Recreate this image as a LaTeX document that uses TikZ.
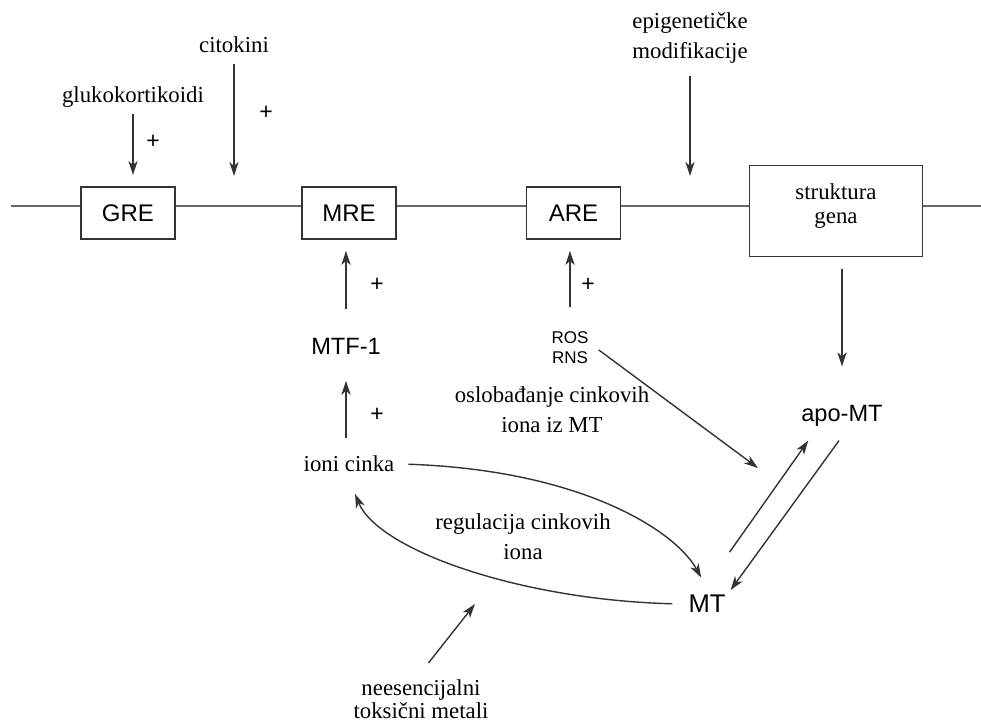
\documentclass[tikz,border=0pt]{standalone}
\usepackage{fontspec}
\setmainfont{Liberation Serif}
\setsansfont{Liberation Sans}
\usetikzlibrary{arrows.meta, calc, positioning}
\definecolor{linegray}{rgb}{0.2, 0.2, 0.2}
\definecolor{dnagray}{rgb}{0.4, 0.4, 0.4}

\begin{document}
\begin{tikzpicture}[x=0.5pt, y=-0.5pt, >={Stealth[length=7pt, width=4.6pt, inset=2pt]}]
        \tikzstyle{element}=[draw=linegray, line width=0.9pt, fill=white, minimum width=47pt, minimum height=26pt, inner sep=0pt, font=\sffamily\fontsize{12}{14}\selectfont]
        \tikzstyle{factor}=[align=center, font=\fontsize{11.4}{15}\selectfont]
        \tikzstyle{protein}=[font=\sffamily\fontsize{11.8}{14}\selectfont]
        \tikzstyle{plus}=[font=\sffamily\fontsize{11.5}{13}\selectfont]
        \tikzstyle{act}=[->, draw=linegray, line width=0.7pt]
        \useasboundingbox (0,0) rectangle (981,722);

        % DNA strand
        \coordinate (lineL) at (11,206);
        \coordinate (lineR) at (981,206);
        \draw[dnagray, line width=0.7pt] (lineL) -- (lineR);

        % Response elements and gene
        \node (gre)[element] at (128,213) {GRE};
        \node (mre)[element] at (349,213) {MRE};
        \node (are)[element] at (573.5,213) {ARE};
        \node (gena)[element, align=center, minimum width=86.5pt, minimum height=45.5pt, font=\fontsize{11.4}{12}\selectfont] at (836,211) {struktura\\gena\\[-5pt]};

        % Inducers from above
        \node (gluko)[factor] at (133,97) {glukokortikoidi};
        \coordinate (glukoEnd) at (133,175);
        \draw[act] (gluko) -- (glukoEnd);
        \node (plusGluko)[plus] at (153,142) {+};

        \node (cito)[factor] at (234,45) {citokini};
        \coordinate (citoEnd) at (234,176);
        \draw[act, shorten <=2pt] (cito) -- (citoEnd);
        \node (plusCito)[plus] at (266,113) {+};

        \node (epi)[factor] at (690,38) {epigenetičke\\modifikacije};
        \coordinate (epiEnd) at (690,176);
        \draw[act, shorten <=3pt] (epi) -- (epiEnd);

        % Zinc branch
        \node (mtf)[protein] at (346,346.5) {MTF-1};
        \draw[act, shorten <=11pt, shorten >=5.5pt] (mtf) -- (mtf |- mre.south);
        \node (plusMre)[plus] at (377,285) {+};

        \node (ioni)[factor] at (349,464) {ioni cinka};
        \draw[act, shorten <=5.4pt, shorten >=9.6pt] (ioni.north -| mtf) -- (mtf);
        \node (plusMtf)[plus] at (377,415) {+};

        % Oxidative branch
        \node (ros)[protein, align=center, font=\sffamily\fontsize{8.5}{10}\selectfont] at (570,347.5) {ROS\\RNS};
        \draw[act, shorten <=8.8pt, shorten >=5.5pt] (ros.north -| ros) -- (ros |- are.south);
        \node (plusAre)[plus] at (588,285) {+};
        \node (oslob)[factor] at (552,410) {oslobađanje cinkovih\\iona iz MT};
        \coordinate (rosEnd) at (758,468);
        \draw[act, shorten <=2pt] (ros.east) -- (rosEnd);

        % Protein forms
        \node (apo)[protein] at (842,416) {apo-MT};
        \draw[act, shorten <=5.75pt, shorten >=16pt] (apo |- gena.south) -- (apo);
        \node (mt)[protein, font=\sffamily\fontsize{12.8}{15}\selectfont] at (707,604) {MT};
        \draw[act] ($(mt.north east)+(-3,-36)$) -- ($(apo.south west)+(14,7)$);
        \draw[act] ($(apo.south)+(-3,7)$) -- ($(mt.north east)+(-2,2)$);

        % Zinc regulation loop
        \draw[act, shorten <=3.5pt, shorten >=6pt] (ioni.east) .. controls (580,470) and (675,530) .. (mt.north);
        \draw[act, shorten <=4.5pt, shorten >=8pt] (mt.west) .. controls (520,600) and (378,550) .. (ioni.south);
        \node (regul)[factor] at (523,537) {regulacija cinkovih\\iona};

        % Toxic metals
        \node (neese)[factor, font=\fontsize{11.4}{11.5}\selectfont] at (421,699) {neesencijalni\\toksični metali};
        \coordinate (metEnd) at (475,604);
        \draw[act, shorten <=6pt] (neese.north) -- (metEnd);
\end{tikzpicture}
\end{document}
